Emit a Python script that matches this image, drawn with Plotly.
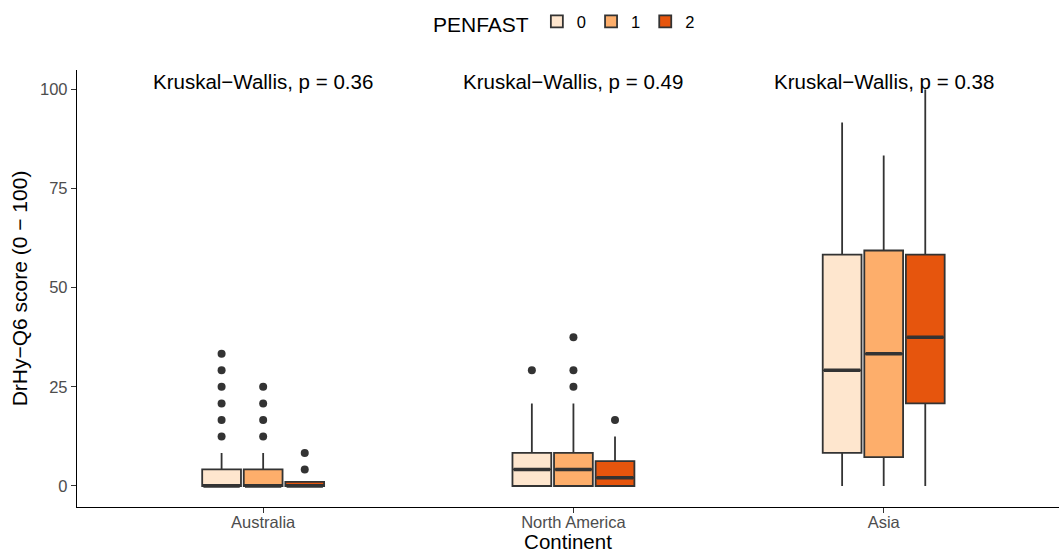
import plotly.graph_objects as go

# ---------------- data ----------------
continents = ["Australia", "North America", "Asia"]
penfast_levels = ["0", "1", "2"]

q1_p0 = [0, 0, 8.33]
med_p0 = [0, 4.17, 29.17]
q3_p0 = [4.17, 8.33, 58.33]
lo_p0 = [0, 0, 0]
hi_p0 = [8.33, 20.83, 91.67]
out_p0 = [[12.5, 16.67, 20.83, 25, 29.17, 33.33], [29.17], []]

q1_p1 = [0, 0, 7.29]
med_p1 = [0, 4.17, 33.33]
q3_p1 = [4.17, 8.33, 59.38]
lo_p1 = [0, 0, 0]
hi_p1 = [8.33, 20.83, 83.33]
out_p1 = [[12.5, 16.67, 20.83, 25], [25, 29.17, 37.5], []]

q1_p2 = [0, 0, 20.83]
med_p2 = [0, 2.08, 37.5]
q3_p2 = [1.04, 6.25, 58.33]
lo_p2 = [0, 0, 0]
hi_p2 = [1.04, 12.5, 100]
out_p2 = [[4.17, 8.33], [16.67], []]

kw_labels = ["Kruskal\u2212Wallis, p = 0.36", "Kruskal\u2212Wallis, p = 0.49", "Kruskal\u2212Wallis, p = 0.38"]

# ---------------- style ----------------
colors = ["#FEE6CE", "#FDAE6B", "#E6550D"]
edge = "#333333"
FONT = "Liberation Sans, Arial, Helvetica, sans-serif"
dodge = 0.134
box_w = 0.125

groups = [
    (q1_p0, med_p0, q3_p0, lo_p0, hi_p0, out_p0),
    (q1_p1, med_p1, q3_p1, lo_p1, hi_p1, out_p1),
    (q1_p2, med_p2, q3_p2, lo_p2, hi_p2, out_p2),
]

cat_pos = list(range(1, len(continents) + 1))

fig = go.Figure()
for g, (q1, med, q3, lo, hi, outs) in enumerate(groups):
    off = (g - 1) * dodge
    xs = [c + off for c in cat_pos]
    fig.add_trace(go.Box(
        x=xs, q1=q1, median=med, q3=q3, lowerfence=lo, upperfence=hi,
        width=box_w, whiskerwidth=0, boxpoints=False,
        fillcolor=colors[g], line=dict(color=edge, width=1.8),
        name=penfast_levels[g], legendgroup=penfast_levels[g],
        hoverinfo="skip",
    ))
    # thick median (ggplot fatten)
    mx, my = [], []
    for x, m in zip(xs, med):
        mx += [x - box_w / 2 + 0.004, x + box_w / 2 - 0.004, None]
        my += [m, m, None]
    fig.add_trace(go.Scatter(x=mx, y=my, mode="lines",
                             line=dict(color=edge, width=3.6),
                             showlegend=False, hoverinfo="skip"))
    # outliers
    ox, oy = [], []
    for x, o in zip(xs, outs):
        ox += [x] * len(o)
        oy += o
    fig.add_trace(go.Scatter(x=ox, y=oy, mode="markers",
                             marker=dict(color=edge, size=8),
                             showlegend=False, hoverinfo="skip"))

for c, lab in zip(cat_pos, kw_labels):
    fig.add_annotation(x=c, y=102, text=lab, showarrow=False,
                       xanchor="center", yanchor="middle",
                       font=dict(family=FONT, size=20.5, color="black"))

fig.update_layout(
    width=1059, height=553,
    paper_bgcolor="white", plot_bgcolor="white",
    margin=dict(l=77, r=0, t=70, b=46, autoexpand=False),
    font=dict(family=FONT),
    showlegend=True,
    legend=dict(
        orientation="h", xref="container", yref="container",
        x=0.534, xanchor="center", y=0.958, yanchor="middle",
        title=dict(text="PENFAST", font=dict(size=21, color="black", family=FONT), side="left"),
        font=dict(size=16.5, color="black", family=FONT),
        itemwidth=30, tracegroupgap=0,
    ),
    xaxis=dict(
        range=[0.4, 3.565], tickmode="array", tickvals=cat_pos, ticktext=continents,
        showline=True, linecolor="black", linewidth=1.3, mirror=False,
        ticks="outside", ticklen=5, tickcolor=edge, tickwidth=1.2,
        ticklabelstandoff=-5,
        tickfont=dict(size=16.5, color="#4D4D4D", family=FONT),
        showgrid=False, zeroline=False, automargin=False,
        title=dict(text="Continent", font=dict(size=20.5, color="black", family=FONT), standoff=12),
    ),
    yaxis=dict(
        range=[-5.3, 104.9], tickmode="array", tickvals=[0, 25, 50, 75, 100],
        showline=True, linecolor="black", linewidth=1.3,
        ticks="outside", ticklen=5, tickcolor=edge, tickwidth=1.2,
        tickfont=dict(size=16.5, color="#4D4D4D", family=FONT),
        showgrid=False, zeroline=False, automargin=False,
        title=dict(text="DrHy\u2212Q6 score (0 \u2212 100)", font=dict(size=21, color="black", family=FONT), standoff=6),
    ),
)

fig.write_html("out.html", config={"displayModeBar": False},
               post_script="document.body.style.margin='0';document.body.style.padding='0';")
